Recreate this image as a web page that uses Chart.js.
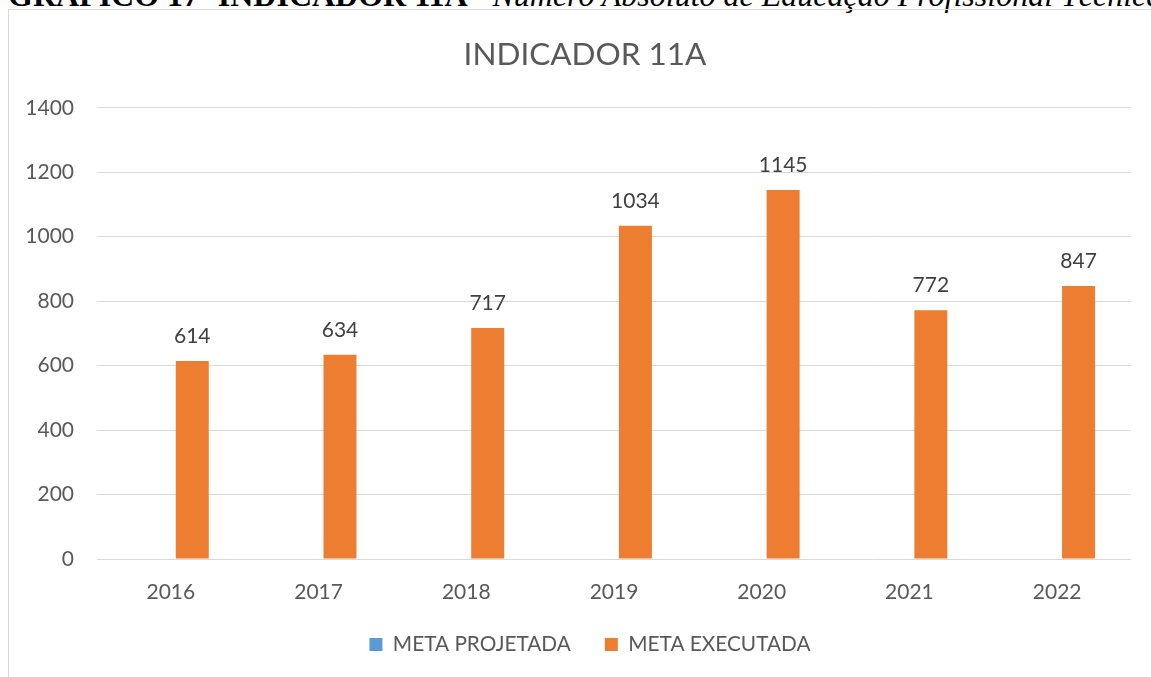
<!DOCTYPE html>
<html>
<head>
<meta charset="utf-8">
<script src="https://cdn.jsdelivr.net/npm/chart.js@4.4.1/dist/chart.umd.min.js"></script>
<style>
  html, body { margin: 0; padding: 0; background: #fff; overflow: hidden; width: 1151px; height: 677px; }
  #header { position: absolute; left: 8px; top: -21px; white-space: nowrap; font-family: "Liberation Serif", serif; font-size: 32px; line-height: 32px; color: #000; }
  #header b { font-weight: bold; }
  #header i { font-style: italic; }
  #box { position: absolute; left: 8px; top: 9px; width: 1160px; height: 720px; border: 1px solid #D9D9D9; box-sizing: border-box; }
  #wrap { position: absolute; left: 9px; top: 10px; width: 1152px; height: 681px; }
</style>
</head>
<body>
<div id="header"><b>GRÁFICO 17- INDICADOR 11A - </b><i>Número Absoluto de Educação Profissional Técnica de Nível Médio</i></div>
<div id="box"></div>
<div id="wrap"><canvas id="c" width="1152" height="681"></canvas></div>
<script>
const categories = ["2016", "2017", "2018", "2019", "2020", "2021", "2022"];
const metaProjetada = [null, null, null, null, null, null, null];
const metaExecutada = [614, 634, 717, 1034, 1145, 772, 847];
const yTicks = [0, 200, 400, 600, 800, 1000, 1200, 1400];
const chartTitle = "INDICADOR 11A";
const seriesNames = ["META PROJETADA", "META EXECUTADA"];

const FONT = "Lato, 'Open Sans', sans-serif";

const valueLabels = {
  id: 'valueLabels',
  afterDatasetsDraw(chart) {
    const ctx = chart.ctx;
    const meta = chart.getDatasetMeta(1);
    ctx.save();
    ctx.font = "21px " + FONT;
    ctx.fillStyle = "#404040";
    ctx.textAlign = "center";
    ctx.textBaseline = "alphabetic";
    meta.data.forEach((bar, i) => {
      const v = chart.data.datasets[1].data[i];
      if (v == null) return;
      ctx.fillText(String(v), bar.x, bar.y - 18);
    });
    ctx.restore();
  }
};

const boxShift = {
  id: 'boxShift',
  afterLayout(chart) {
    const W = chart.width;
    if (chart.titleBlock) { chart.titleBlock.left = 0; chart.titleBlock.right = W; }
    if (chart.legend) {
      chart.legend.left = 5; chart.legend.right = W + 5;
      chart.legend.top -= 26; chart.legend.bottom -= 26;
    }
  }
};

new Chart(document.getElementById('c'), {
  type: 'bar',
  data: {
    labels: categories,
    datasets: [
      { label: seriesNames[0], data: metaProjetada, backgroundColor: '#5B9BD5', categoryPercentage: 0.58, barPercentage: 0.77 },
      { label: seriesNames[1], data: metaExecutada, backgroundColor: '#ED7D31', categoryPercentage: 0.58, barPercentage: 0.77 }
    ]
  },
  options: {
    responsive: false,
    animation: false,
    devicePixelRatio: 1,
    layout: { padding: { left: 0, right: 30, top: 0, bottom: 0 } },
    plugins: {
      title: { display: true, text: chartTitle, color: '#595959', font: { family: FONT, size: 31.5, weight: 'normal' }, padding: { top: 26, bottom: 34 } },
      legend: {
        position: 'bottom',
        labels: { color: '#595959', font: { family: FONT, size: 20.8 }, boxWidth: 13, boxHeight: 13, padding: 34 }
      },
      tooltip: { enabled: false }
    },
    scales: {
      x: {
        grid: { display: false, drawTicks: false },
        border: { display: false },
        ticks: { color: '#595959', font: { family: FONT, size: 21 }, padding: 21 }
      },
      y: {
        min: 0, max: 1400,
        afterBuildTicks(scale) { scale.ticks = yTicks.map(v => ({ value: v })); },
        afterFit(scale) { scale.width = 88; },
        grid: { color: '#D9D9D9', lineWidth: 1, drawTicks: false },
        border: { display: false },
        ticks: { color: '#595959', font: { family: FONT, size: 21 }, padding: 23, callback: (v) => String(v) }
      }
    }
  },
  plugins: [valueLabels, boxShift]
});
</script>
</body>
</html>
